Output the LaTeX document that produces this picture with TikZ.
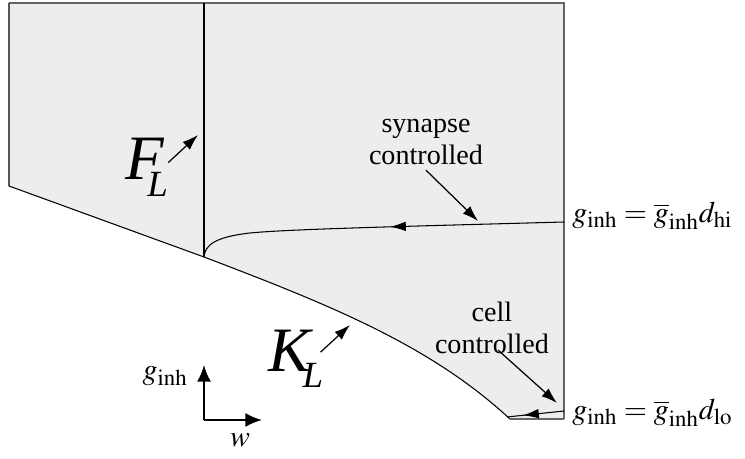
\documentclass[tikz,border=0pt]{standalone}
\usepackage{mathptmx}
\usepackage{fontspec}
\setmainfont{Liberation Serif}
\DeclareMathSizes{17}{17}{13}{10}
\definecolor{regiongray}{RGB}{237,237,237}
\definecolor{edgegray}{RGB}{100,100,100}
\usetikzlibrary{arrows.meta,decorations.markings}

\begin{document}
\begin{tikzpicture}[
  x=0.02cm, y=-0.02cm,
  every node/.style={font=\fontsize{16}{18}\selectfont},
  edge/.style={line width=0.6pt},
  pointer/.style={-{Latex[length=9pt,width=6pt]},line width=0.7pt},
  axisarrow/.style={-{Latex[length=9.5pt,width=8pt]},line width=1.1pt},
  setname/.style={font=\fontsize{36}{36}\selectfont\itshape,inner sep=0pt},
  eqlabel/.style={font=\fontsize{17}{19}\selectfont,inner sep=0pt},
  flowdir/.style={postaction={decorate},decoration={markings,
      mark=at position #1 with {\arrow{Latex[length=9pt,width=5.5pt]}}}},
]
  \useasboundingbox (0,0) rectangle (745,459);

  % Region corners
  \coordinate (tl) at (9,3);
  \coordinate (tr) at (564,3);
  \coordinate (br) at (564,419);
  \coordinate (bl) at (510,419);
  \coordinate (kl) at (204,257);
  \coordinate (lf) at (9,186);

  % Shaded region
  \fill[regiongray] (tl) -- (tr) -- (br) -- (bl)
    .. controls (430,345) and (330,305) .. (kl) -- (lf) -- cycle;
  \draw[edge,edgegray] (tl) -- (tr) -- (br);
  \draw[edge] (tl) -- (lf) -- (kl) .. controls (330,305) and (430,345) .. (bl);
  \draw[edge,edgegray] (bl) -- (br);

  % F_L boundary
  \draw[edge] (kl) -- (204,3);

  % Trajectories
  \coordinate (hi) at (564,222);
  \coordinate (lo) at (564,411);
  \coordinate (loend) at (507,417);
  \draw[edge,flowdir=0.47] (hi) .. controls (420,226) and (290,229) .. (250,233)
    .. controls (215,237) and (205,245) .. (kl);
  \draw[edge,flowdir=0.72] (lo) -- (loend);

  % Labels on the right
  \node[eqlabel,anchor=west] (hilabel) at (572,216)
    {$g_{\mathrm{inh}} = \overline{g}_{\mathrm{inh}} d_{\mathrm{hi}}$};
  \node[eqlabel,anchor=west] (lolabel) at (572,413)
    {$g_{\mathrm{inh}} = \overline{g}_{\mathrm{inh}} d_{\mathrm{lo}}$};

  % Set names
  \node[setname,anchor=base west] (fname) at (125,180)
    {F\kern-9.5pt\raisebox{-9.5pt}{\fontsize{21}{21}\selectfont L}};
  \coordinate (ftip) at (198,135);
  \draw[pointer] ([shift={(0,-5)}]fname.east) -- (ftip);

  \node[setname,anchor=base west] (kname) at (268,372)
    {K\kern-4.5pt\raisebox{-9pt}{\fontsize{21}{21}\selectfont L}};
  \coordinate (ktip) at (350,325);
  \draw[pointer] ([shift={(-3,-7)}]kname.east) -- (ktip);

  % Regime labels
  \node[align=center,inner sep=0pt] (synapse) at (426,142) {synapse\\controlled};
  \coordinate (syntip) at (478,221);
  \draw[pointer] ([yshift=-3]synapse.south) -- (syntip);

  \node[align=center,inner sep=0pt] (cell) at (492,328) {cell\\controlled};
  \coordinate (celltip) at (557,403);
  \draw[pointer] ([shift={(6,-4)}]cell.south) -- (celltip);

  % Axes
  \coordinate (origin) at (204,420);
  \coordinate (gtip) at (204,365);
  \coordinate (wtip) at (262,420);
  \draw[axisarrow] (origin) -- (gtip);
  \draw[axisarrow] (origin) -- (wtip);
  \node[eqlabel,anchor=base east] (glabel) at (188,380) {$g_{\mathrm{inh}}$};
  \node[eqlabel] (wlabel) at (240,440) {$w$};
\end{tikzpicture}
\end{document}
